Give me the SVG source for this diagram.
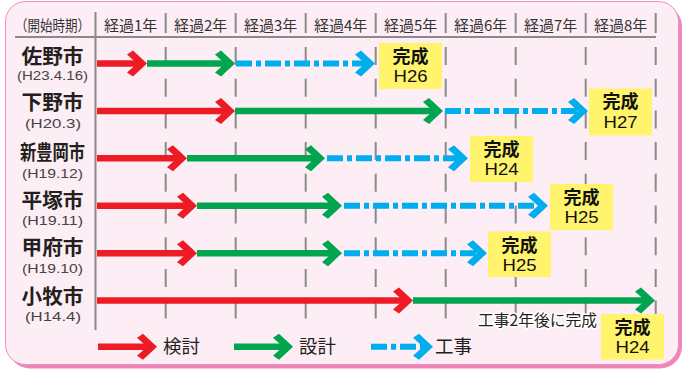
<svg xmlns="http://www.w3.org/2000/svg" xmlns:xlink="http://www.w3.org/1999/xlink" width="682" height="370" viewBox="0 0 682 370">
<style>
text{font-family:"Noto Sans CJK JP","Noto Sans",sans-serif;}
.hd{font-size:15px;fill:#333;text-anchor:middle;}
.city{font-size:20px;font-weight:bold;fill:#231f20;text-anchor:middle;}
.sub{font-family:"Liberation Sans",Arial,sans-serif;font-size:12px;fill:#444;text-anchor:middle;}
.box{fill:#fff46c;}
.bt1{font-size:18px;font-weight:bold;fill:#111;text-anchor:middle;}
.bt2{font-family:"Liberation Sans",Arial,sans-serif;font-size:16.5px;fill:#111;text-anchor:middle;}
.grid{stroke:#8a8a8a;stroke-width:2;fill:none;}
.dash{stroke:#8a8a8a;stroke-width:2;stroke-dasharray:18 13.7;fill:none;}
.r{stroke:#ed1c24;stroke-width:6.5;fill:none;}
.g{stroke:#00a54f;stroke-width:6.5;fill:none;}
.b{stroke:#00aeef;stroke-width:6;stroke-dasharray:16 4 5 4;fill:none;}
.rf{fill:#ed1c24;}
.gf{fill:#00a54f;}
.bf{fill:#00aeef;}
.leg{font-size:18.5px;fill:#231f20;}
.note{font-size:15.5px;fill:#231f20;stroke:#fff;stroke-width:3;paint-order:stroke;stroke-linejoin:round;}
</style>
<defs>
<path id="chev" d="M0,0 L-14,-13 L-20,-9 L-10,0 L-20,9 L-14,13 Z"/>
</defs>
<g id="background">
<rect x="8" y="4.5" width="674" height="364" rx="22" fill="#ef86b8"/>
<rect x="5.5" y="1.5" width="673" height="363" rx="20" fill="#fdedf4" stroke="#f08cbf" stroke-width="1"/>
</g>
<g id="grid">
<line class="grid" x1="15" y1="37" x2="656" y2="37" stroke-width="2.6"/>
<line class="grid" x1="95.5" y1="12" x2="95.5" y2="330" stroke-width="2.6"/>
<line class="grid" x1="165.7" y1="13" x2="165.7" y2="33"/>
<line class="grid" x1="235.7" y1="13" x2="235.7" y2="33"/>
<line class="grid" x1="305.7" y1="13" x2="305.7" y2="33"/>
<line class="grid" x1="375.7" y1="13" x2="375.7" y2="33"/>
<line class="grid" x1="445.7" y1="13" x2="445.7" y2="33"/>
<line class="grid" x1="515.7" y1="13" x2="515.7" y2="33"/>
<line class="grid" x1="585.7" y1="13" x2="585.7" y2="33"/>
<line class="grid" x1="655.7" y1="13" x2="655.7" y2="33"/>
<line class="dash" x1="165.7" y1="47" x2="165.7" y2="330"/>
<line class="dash" x1="235.7" y1="47" x2="235.7" y2="330"/>
<line class="dash" x1="305.7" y1="47" x2="305.7" y2="330"/>
<line class="dash" x1="375.7" y1="47" x2="375.7" y2="330"/>
<line class="dash" x1="445.7" y1="47" x2="445.7" y2="330"/>
<line class="dash" x1="515.7" y1="47" x2="515.7" y2="330"/>
<line class="dash" x1="585.7" y1="47" x2="585.7" y2="330"/>
<line class="dash" x1="655.7" y1="47" x2="655.7" y2="330"/>
</g>
<g id="header">
<text class="hd" x="52.5" y="30.5" textLength="75" lengthAdjust="spacingAndGlyphs">（開始時期）</text>
<text class="hd" x="130.7" y="31">経過1年</text>
<text class="hd" x="200.7" y="31">経過2年</text>
<text class="hd" x="270.7" y="31">経過3年</text>
<text class="hd" x="340.7" y="31">経過4年</text>
<text class="hd" x="410.7" y="31">経過5年</text>
<text class="hd" x="480.7" y="31">経過6年</text>
<text class="hd" x="550.7" y="31">経過7年</text>
<text class="hd" x="620.7" y="31">経過8年</text>
</g>
<g id="sano"><text class="city" x="52.5" y="64" textLength="62" lengthAdjust="spacingAndGlyphs">佐野市</text><text class="sub" x="52.5" y="80" textLength="71" lengthAdjust="spacingAndGlyphs">(H23.4.16)</text></g>
<g id="shimotsuke"><text class="city" x="52.5" y="110" textLength="62" lengthAdjust="spacingAndGlyphs">下野市</text><text class="sub" x="53" y="128" textLength="56" lengthAdjust="spacingAndGlyphs">(H20.3)</text></g>
<g id="shintoyooka"><text class="city" x="52.5" y="160" textLength="65" lengthAdjust="spacingAndGlyphs">新豊岡市</text><text class="sub" x="52.5" y="177.5" textLength="61" lengthAdjust="spacingAndGlyphs">(H19.12)</text></g>
<g id="hiratsuka"><text class="city" x="52.5" y="208" textLength="62" lengthAdjust="spacingAndGlyphs">平塚市</text><text class="sub" x="52.5" y="225" textLength="61" lengthAdjust="spacingAndGlyphs">(H19.11)</text></g>
<g id="kofu"><text class="city" x="52.5" y="255" textLength="62" lengthAdjust="spacingAndGlyphs">甲府市</text><text class="sub" x="52.5" y="273" textLength="61" lengthAdjust="spacingAndGlyphs">(H19.10)</text></g>
<g id="komaki"><text class="city" x="52.5" y="303.5" textLength="62" lengthAdjust="spacingAndGlyphs">小牧市</text><text class="sub" x="53" y="321" textLength="56" lengthAdjust="spacingAndGlyphs">(H14.4)</text></g>
<g id="connectors">
<line class="r" x1="97" y1="63.5" x2="139" y2="63.5"/>
<line class="g" x1="147" y1="63.5" x2="226" y2="63.5"/>
<line class="b" x1="236" y1="63.5" x2="366" y2="63.5"/>
<line class="r" x1="97" y1="111" x2="226" y2="111"/>
<line class="g" x1="235" y1="111" x2="434" y2="111"/>
<line class="b" x1="445" y1="111" x2="579" y2="111"/>
<line class="r" x1="97" y1="158.3" x2="178" y2="158.3"/>
<line class="g" x1="187" y1="158.3" x2="316" y2="158.3"/>
<line class="b" x1="327" y1="158.3" x2="459" y2="158.3"/>
<line class="r" x1="97" y1="205.8" x2="188" y2="205.8"/>
<line class="g" x1="197" y1="205.8" x2="333" y2="205.8"/>
<line class="b" x1="344" y1="205.8" x2="539" y2="205.8"/>
<line class="r" x1="97" y1="253.2" x2="188" y2="253.2"/>
<line class="g" x1="197" y1="253.2" x2="333" y2="253.2"/>
<line class="b" x1="344" y1="253.2" x2="478" y2="253.2"/>
<line class="r" x1="97" y1="300.6" x2="404" y2="300.6"/>
<line class="g" x1="413" y1="300.6" x2="646" y2="300.6"/>
<use href="#chev" x="147" y="63.5" class="rf"/>
<use href="#chev" x="235" y="63.5" class="gf"/>
<use href="#chev" x="375" y="63.5" class="bf"/>
<use href="#chev" x="235" y="111" class="rf"/>
<use href="#chev" x="443" y="111" class="gf"/>
<use href="#chev" x="588" y="111" class="bf"/>
<use href="#chev" x="187" y="158.3" class="rf"/>
<use href="#chev" x="325" y="158.3" class="gf"/>
<use href="#chev" x="468" y="158.3" class="bf"/>
<use href="#chev" x="197" y="205.8" class="rf"/>
<use href="#chev" x="342" y="205.8" class="gf"/>
<use href="#chev" x="548" y="205.8" class="bf"/>
<use href="#chev" x="197" y="253.2" class="rf"/>
<use href="#chev" x="342" y="253.2" class="gf"/>
<use href="#chev" x="487" y="253.2" class="bf"/>
<use href="#chev" x="413" y="300.6" class="rf"/>
<use href="#chev" x="655" y="300.6" class="gf"/>
</g>
<g id="done-sano"><rect class="box" x="379" y="43" width="63" height="46"/><text class="bt1" x="410.5" y="63">完成</text><text class="bt2" x="410.5" y="82" textLength="34" lengthAdjust="spacingAndGlyphs">H26</text></g>
<g id="done-shimotsuke"><rect class="box" x="589" y="88.5" width="63" height="47"/><text class="bt1" x="620.5" y="108">完成</text><text class="bt2" x="620.5" y="127.5" textLength="34" lengthAdjust="spacingAndGlyphs">H27</text></g>
<g id="done-shintoyooka"><rect class="box" x="470" y="136" width="63" height="46"/><text class="bt1" x="501.5" y="156">完成</text><text class="bt2" x="501.5" y="175" textLength="34" lengthAdjust="spacingAndGlyphs">H24</text></g>
<g id="done-hiratsuka"><rect class="box" x="550" y="184" width="63" height="46"/><text class="bt1" x="581.5" y="204">完成</text><text class="bt2" x="581.5" y="223" textLength="34" lengthAdjust="spacingAndGlyphs">H25</text></g>
<g id="done-kofu"><rect class="box" x="488" y="231.5" width="63" height="45.5"/><text class="bt1" x="519.5" y="251.5">完成</text><text class="bt2" x="519.5" y="270.5" textLength="34" lengthAdjust="spacingAndGlyphs">H25</text></g>
<g id="note-komaki"><text class="note" x="478" y="325.5" textLength="119" lengthAdjust="spacingAndGlyphs">工事2年後に完成</text></g>
<g id="done-komaki"><rect class="box" x="601" y="314" width="63" height="45.5"/><text class="bt1" x="632.5" y="334">完成</text><text class="bt2" x="632.5" y="353" textLength="34" lengthAdjust="spacingAndGlyphs">H24</text></g>
<g id="legend">
<line class="r" x1="98" y1="346.7" x2="148" y2="346.7"/>
<use href="#chev" x="157" y="346.7" class="rf"/>
<text class="leg" x="163" y="352.5">検討</text>
<line class="g" x1="234" y1="346.7" x2="284" y2="346.7"/>
<use href="#chev" x="293" y="346.7" class="gf"/>
<text class="leg" x="299" y="352.5">設計</text>
<line class="b" x1="371" y1="346.7" x2="424" y2="346.7"/>
<use href="#chev" x="433" y="346.7" class="bf"/>
<text class="leg" x="435" y="352.5">工事</text>
</g>
</svg>
